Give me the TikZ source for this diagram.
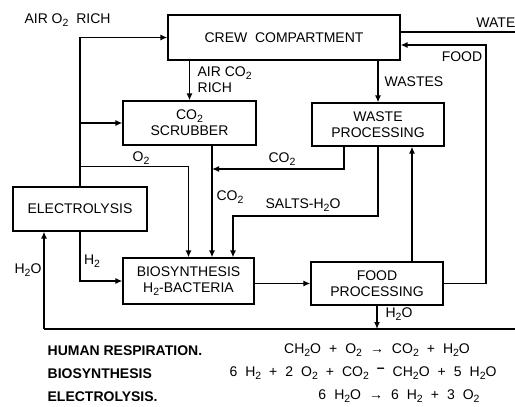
\documentclass[tikz,border=0pt]{standalone}
\usepackage{fontspec}
\setmainfont{Liberation Sans}
\usetikzlibrary{arrows.meta}
\newcommand{\lowsub}[1]{\raisebox{-0.35ex}{\fontsize{10.5}{10.5}\selectfont #1}}
\newcommand{\widespace}{\spaceskip=8pt\relax}

\begin{document}
\begin{tikzpicture}[x=1pt, y=-1pt, line width=1.3pt,
    >={Latex[length=7pt,width=6pt]},
    font=\fontsize{14}{16}\selectfont,
    unit/.style={draw, line width=1.2pt, align=center, inner sep=0pt},
    lbl/.style={inner sep=0pt},
    eqn/.style={inner sep=0pt, execute at begin node=\widespace},
    head/.style={inner sep=0pt, anchor=west, font=\fontsize{14}{16}\selectfont\bfseries}]
    \useasboundingbox (0,0) rectangle (515,407);

    % Boxes
    \node[unit, minimum width=232, minimum height=45] (crew) at (284,37.5) {CREW\ \ COMPARTMENT};
    \node[unit, minimum width=133, minimum height=44] (scrub) at (189.5,123) {CO\lowsub{2}\\SCRUBBER};
    \node[unit, minimum width=132, minimum height=43] (waste) at (378,124.5) {WASTE\\PROCESSING};
    \node[unit, minimum width=134, minimum height=44] (elec) at (80,209) {ELECTROLYSIS};
    \node[unit, minimum width=131, minimum height=46] (bio) at (188.5,281) {BIOSYNTHESIS\\H\lowsub{2}-BACTERIA};
    \node[unit, minimum width=132, minimum height=43] (food) at (377,283.5) {FOOD\\PROCESSING};

    % Junction points
    \coordinate (co2in) at (212,169);
    \coordinate (saltsturn) at (233,216);
    \coordinate (foodturn) at (486,45);
    \coordinate (waterend) at (515,32);
    \coordinate (h2oleft) at (44,329);
    \coordinate (h2oright) at (515,329);

    % Arrows
    \draw[->] (elec.north) |- (crew.west);
    \draw[->] (elec.north |- scrub.west) -- (scrub.west);
    \draw[->] (elec.north) ++(0,-20) -| (bio.north);
    \draw[->] (crew.south -| scrub.north) -- (scrub.north);
    \draw[->] (crew.south -| waste.north) -- (waste.north);
    \draw[->] (scrub.south -| co2in) -- (co2in |- bio.north);
    \draw[->] ([xshift=-34]waste.south) |- (co2in);
    \draw[->] (waste.south) |- (saltsturn) -- (saltsturn |- bio.north);
    \draw[->] (elec.south) |- (bio.west);
    \draw[->] (bio.east |- food.west) -- (food.west);
    \draw[->] ([xshift=35]food.north) -- ([xshift=35]food.north |- waste.south);
    \draw[->] (food.east) -| (foodturn) -- (foodturn -| crew.east);
    \draw (crew.east |- waterend) -- (waterend);
    \draw[->] (food.south) -- (food.south |- h2oleft);
    \draw (h2oright) -- (h2oleft);
    \draw[->] (h2oleft) -- (h2oleft |- elec.south);

    % Labels
    \node[lbl] at (67.5,20) {AIR O\lowsub{2}\ \ RICH};
    \node[lbl, anchor=west, align=left] at (197,80) {AIR CO\lowsub{2}\\RICH};
    \node[lbl, anchor=west] at (384,82) {WASTES};
    \node[lbl] at (462,57) {FOOD};
    \node[lbl, anchor=east] at (516,23) {WATE};
    \node[lbl] at (141,158) {O\lowsub{2}};
    \node[lbl] at (282,159) {CO\lowsub{2}};
    \node[lbl] at (230,197) {CO\lowsub{2}};
    \node[lbl] at (303,205) {SALTS-H\lowsub{2}O};
    \node[lbl] at (92,261) {H\lowsub{2}};
    \node[lbl] at (28,270) {H\lowsub{2}O};
    \node[lbl] at (399,314) {H\lowsub{2}O};

    % Reactions
    \node[head] at (47,351) {HUMAN RESPIRATION.};
    \node[head] at (47,374) {BIOSYNTHESIS};
    \node[head] at (47,397) {ELECTROLYSIS.};
    \node[eqn] at (377,350) {CH\lowsub{2}O + O\lowsub{2} → CO\lowsub{2} + H\lowsub{2}O};
    \node[eqn] at (363,373) {6 H\lowsub{2} + 2 O\lowsub{2} + CO\lowsub{2} \raisebox{0.5ex}{\textbf{–}} CH\lowsub{2}O + 5 H\lowsub{2}O};
    \node[eqn] at (399,396) {6 H\lowsub{2}O → 6 H\lowsub{2} + 3 O\lowsub{2}};
\end{tikzpicture}
\end{document}
